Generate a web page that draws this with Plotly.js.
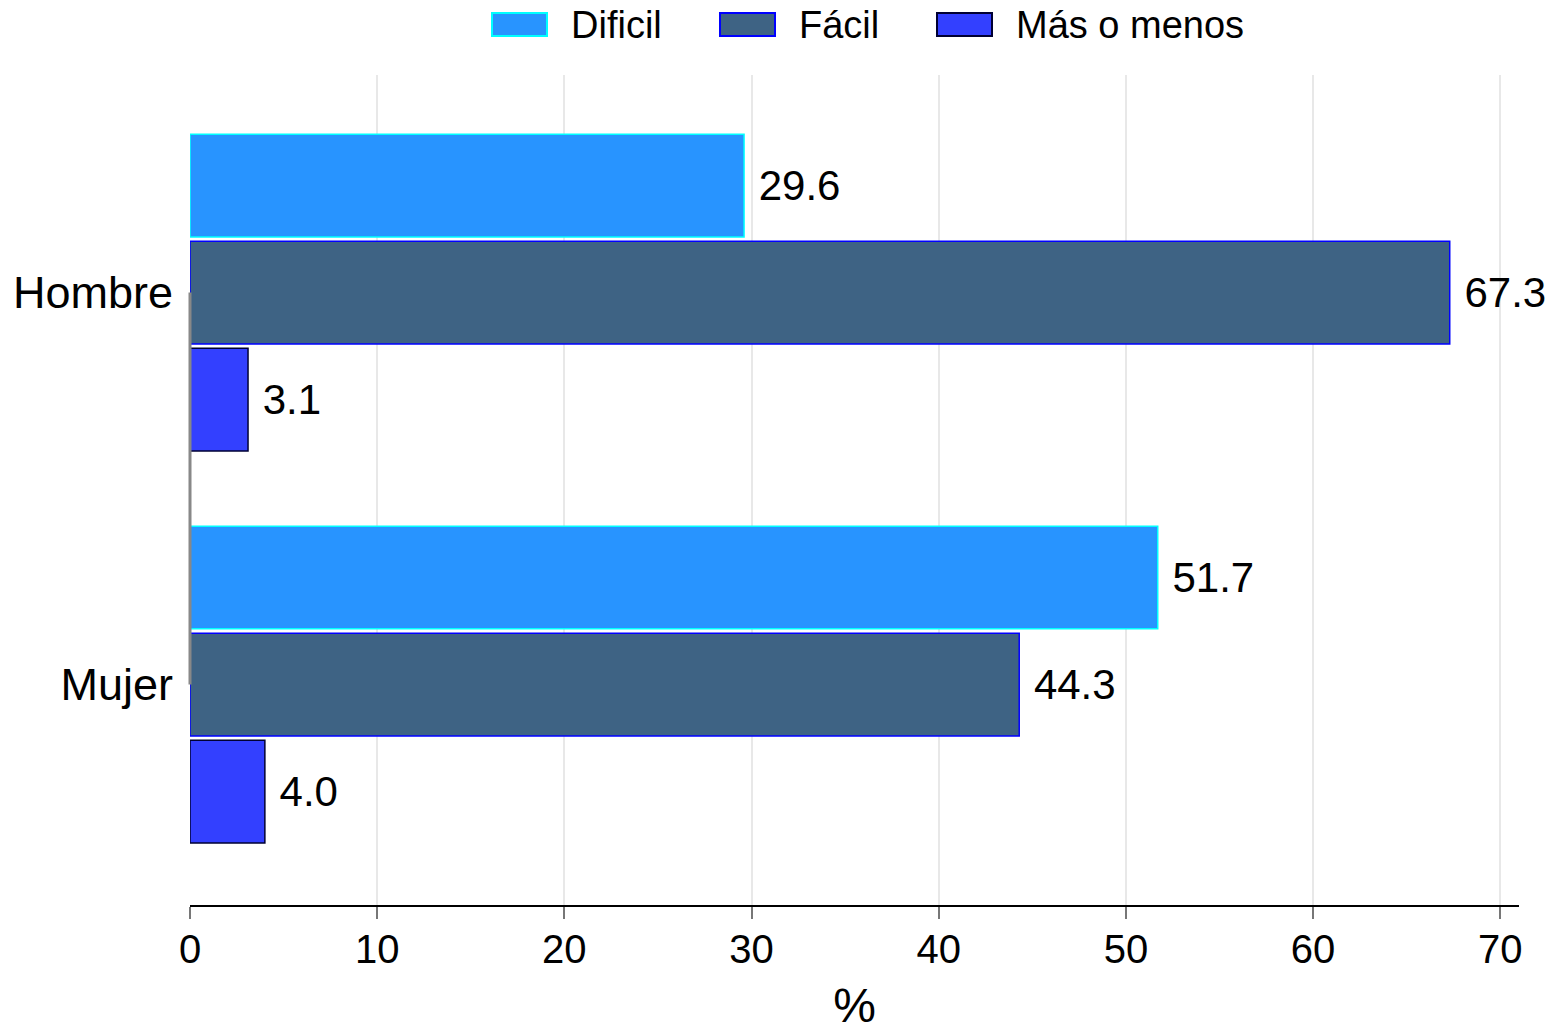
<!DOCTYPE html>
<html>
<head>
<meta charset="utf-8">
<script src="https://cdn.plot.ly/plotly-3.0.1.min.js"></script>
<style>body{margin:0;padding:0;background:#fff}#chart{width:1556px;height:1032px}</style>
</head>
<body>
<div id="chart"></div>
<script>
const categories = ["Hombre", "Mujer"];
const seriesNames = ["Dificil", "Fácil", "Más o menos"];
const dificil = [29.6, 51.7];
const facil = [67.3, 44.3];
const masOMenos = [3.1, 4.0];
const xTicks = [0, 10, 20, 30, 40, 50, 60, 70];

const fills = ["rgb(40,148,255)", "rgb(62,99,132)", "rgb(51,64,255)"];
const lines = ["rgb(0,255,255)", "rgb(0,0,255)", "rgb(0,0,51)"];
const values = [dificil, facil, masOMenos];
const FONT = "Liberation Sans, Arial, Helvetica, sans-serif";

const traces = values.map((v, i) => ({
  type: "bar",
  orientation: "h",
  name: seriesNames[i],
  y: categories,
  x: v,
  marker: {color: fills[i], line: {color: lines[i], width: 1.5}},
  text: v.map(d => d.toFixed(1)),
  texttemplate: " %{text}",
  textposition: "outside",
  cliponaxis: false,
  textfont: {family: FONT, size: 42, color: "#000"},
  hoverinfo: "x+name"
}));

// custom legend (large swatches like the reference), placed in paper coordinates
const plotL = 190, plotW = 1329, plotB = 905, plotH = 830;
const px2x = p => (p - plotL) / plotW;
const py2y = p => (plotB - p) / plotH;
const swatchLeft = [492, 720, 937];
const shapes = [];
const annotations = [];
seriesNames.forEach((n, i) => {
  shapes.push({type: "rect", xref: "paper", yref: "paper",
    x0: px2x(swatchLeft[i]), x1: px2x(swatchLeft[i] + 55),
    y0: py2y(36), y1: py2y(13),
    fillcolor: fills[i], line: {color: lines[i], width: 2}});
  annotations.push({xref: "paper", yref: "paper", x: px2x(swatchLeft[i] + 77), y: py2y(25),
    xanchor: "left", yanchor: "middle", showarrow: false, text: n,
    font: {family: FONT, size: 38, color: "#000"}});
});
shapes.push({type: "line", xref: "paper", x0: 0, x1: 0, yref: "y", y0: 0, y1: 1,
             line: {color: "#888", width: 3}});

const layout = {
  width: 1556, height: 1032,
  margin: {l: 190, r: 37, t: 75, b: 127},
  paper_bgcolor: "#fff", plot_bgcolor: "#fff",
  font: {family: FONT, color: "#000"},
  barmode: "group",
  bargap: 0.181,
  bargroupgap: 0.04,
  showlegend: false,
  xaxis: {
    range: [0, 71], tickvals: xTicks, ticktext: xTicks.map(String),
    showgrid: true, gridcolor: "#e8e8e8", gridwidth: 2,
    zeroline: false, showline: true, linecolor: "#000", linewidth: 2,
    ticks: "outside", ticklen: 12, tickcolor: "#777", tickwidth: 2,
    tickfont: {family: FONT, size: 40}, ticklabelstandoff: -4,
    title: {text: "%", font: {family: FONT, size: 48}, standoff: 30}
  },
  yaxis: {
    type: "category", range: [1.5625, -0.555],
    showgrid: false, zeroline: false, showline: false, ticks: "",
    tickfont: {family: FONT, size: 45}, ticklabelstandoff: 16
  },
  shapes: shapes,
  annotations: annotations
};

Plotly.newPlot("chart", traces, layout, {displayModeBar: false, staticPlot: true});
</script>
</body>
</html>
